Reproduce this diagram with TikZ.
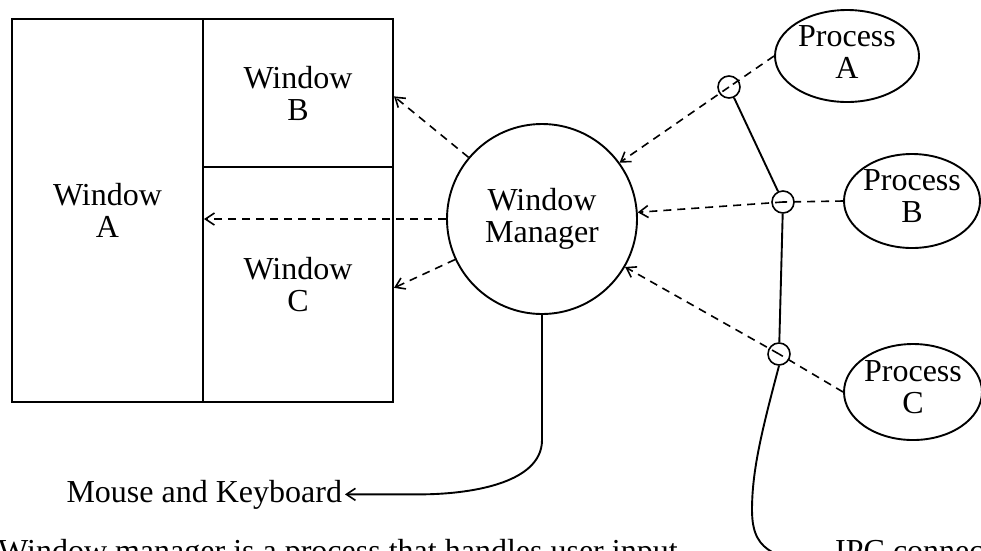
\documentclass[tikz,border=0pt]{standalone}
\usepackage{fontspec}
\setmainfont{Liberation Serif}
\usetikzlibrary{shapes.geometric,arrows.meta,calc}
\begin{document}
\begin{tikzpicture}[x=1pt,y=-1pt,
  every node/.style={inner sep=0pt},
  txt/.style={font=\fontsize{32}{32}\selectfont, align=center},
  winbox/.style={draw, line width=2pt, txt},
  proc/.style={draw, ellipse, line width=1.9pt},
  ipc/.style={draw, circle, line width=1.6pt, minimum size=22pt},
  flow/.style={line width=1.6pt, dash pattern=on 8pt off 6pt},
  arr/.style={-{Straight Barb[length=9pt,width=12pt,line width=1.6pt]}},
  wire/.style={line width=1.9pt}]
\useasboundingbox (0,0) rectangle (981,550);
\clip (0,0) rectangle (981,550);

% windows
\node[winbox, minimum width=191pt, minimum height=383pt] (winA) at (107.5,210.5) {Window\\A};
\node[winbox, minimum width=190pt, minimum height=148pt] (winB) at (298,93) {Window\\B};
\node[winbox, minimum width=190pt, minimum height=235pt] (winC) at (298,284.5) {Window\\C};

% window manager
\node[draw, circle, line width=1.9pt, minimum size=190pt, txt] (wm) at (542,219) {Window\\Manager};

% processes
\node[proc, minimum width=144pt, minimum height=92pt] (pA) at (847,56) {};
\node[txt] (pAt) at ($(pA.center)+(0,-4)$) {Process\\A};
\node[proc, minimum width=136pt, minimum height=94pt] (pB) at (912,201) {};
\node[txt] (pBt) at ($(pB.center)+(0,-5)$) {Process\\B};
\node[proc, minimum width=138pt, minimum height=96pt] (pC) at (913,392) {};
\node[txt] (pCt) at ($(pC.center)+(0,-5)$) {Process\\C};

% IPC points
\node[ipc] (ipcA) at (729,87) {};
\node[ipc] (ipcB) at (783,202) {};
\node[ipc] (ipcC) at (779,354) {};
\coordinate (ipcEnd) at (795,568);

% texts
\node[txt, anchor=base east, outer xsep=3pt] (mk) at (345,502) {Mouse and Keyboard};
\node[txt, anchor=base west] (note) at (-2,561) {Window manager is a process that handles user input};
\node[txt, anchor=base west] (ipcl) at (835,561) {IPC connections};

% WM -> windows
\draw[flow,arr] (wm.140) -- (winB.-2);
\draw[flow,arr] (wm.west) -- (wm.west -| winA.east);
\draw[flow,arr] (wm.205) -- (winC.-2);

% processes -> WM
\draw[flow] (pA.west) -- (ipcA.center);
\draw[flow,arr] (ipcA.center) -- (wm.36);
\draw[flow] (pB.west) -- (ipcB.center);
\draw[flow,arr] (ipcB.center) -- (wm.4);
\draw[flow] (pC.west) -- (ipcC.center);
\draw[flow,arr] (ipcC.center) -- (wm.-30);

% IPC wires
\draw[wire] (ipcA) -- (ipcB);
\draw[wire] (ipcB) -- (ipcC);
\draw[wire] (ipcC.south) .. controls (762,430) and (752,470) .. (752,510)
  .. controls (752,535) and (760,545) .. (772,552) -- (ipcEnd);

% mouse and keyboard
\draw[wire,arr] (wm.south) -- ++(0,125) .. controls +(0,45) and +(45,0) .. ($(mk.east)+(75,0)$) -- (mk.east);
\end{tikzpicture}
\end{document}
